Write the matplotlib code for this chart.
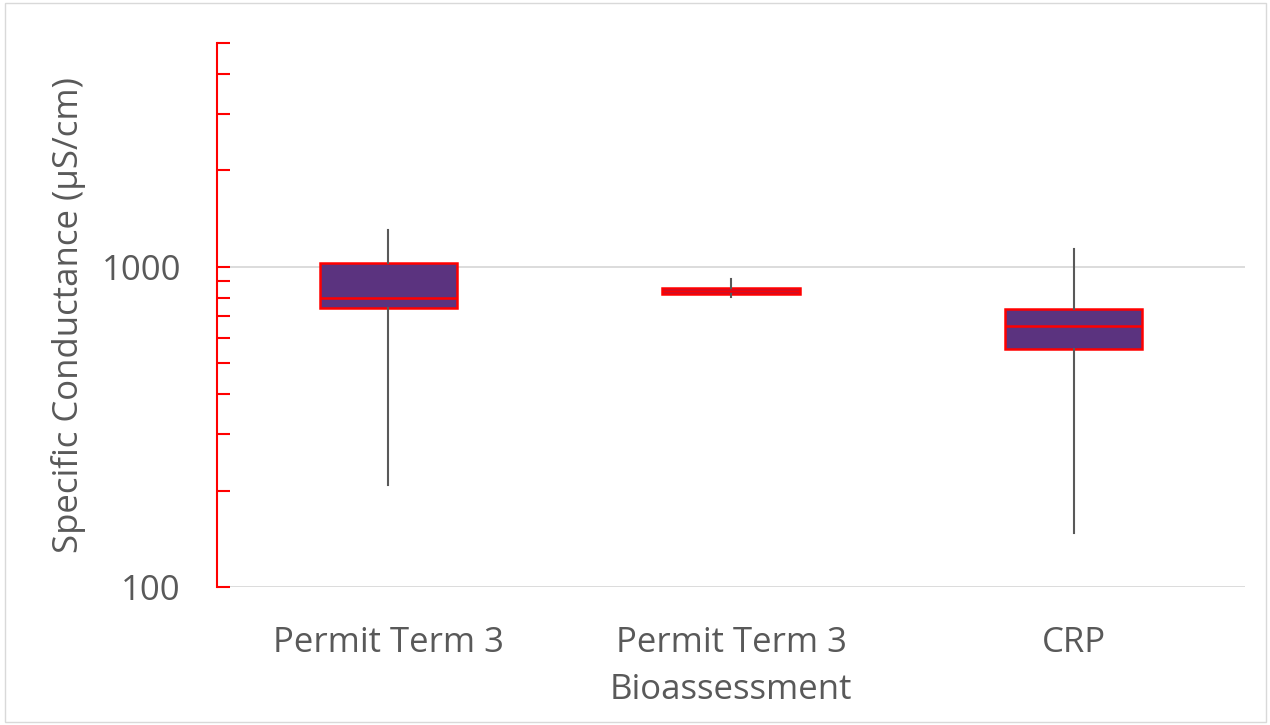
import matplotlib.pyplot as plt
from matplotlib.ticker import FixedLocator, NullFormatter, FixedFormatter
from matplotlib.patches import Rectangle

plt.rcParams['font.family'] = ['Open Sans', 'DejaVu Sans']

# box statistics (uS/cm)
groups = ['Permit Term 3', 'Permit Term 3\nBioassessment', 'CRP']
whislo = [209, 806, 147]
q1 = [743, 823, 553]
med = [800, 841, 653]
q3 = [1029, 859, 739]
whishi = [1306, 917, 1139]

stats = []
for i in range(len(groups)):
    stats.append(dict(label=groups[i], whislo=whislo[i], q1=q1[i], med=med[i],
                      q3=q3[i], whishi=whishi[i], fliers=[]))

fig = plt.figure(figsize=(12.7, 7.25), dpi=100)
ax = fig.add_axes([0.1709, 0.1903, 0.8094, 0.7504])

grey = '#595959'
ax.bxp(stats, positions=[0, 1, 2], widths=0.4, patch_artist=True, showcaps=False,
       boxprops=dict(facecolor='#5B337F', edgecolor='#FF0000', linewidth=1.8),
       medianprops=dict(color='#FF0000', linewidth=1.8),
       whiskerprops=dict(color=grey, linewidth=1.5), zorder=3)

ax.set_yscale('log')
ax.set_ylim(100, 5000)
ax.set_xlim(-0.5, 2.5)
ax.yaxis.set_major_locator(FixedLocator([100, 1000]))
ax.yaxis.set_major_formatter(FixedFormatter(['100', '1000']))
ax.yaxis.set_minor_locator(FixedLocator([200, 300, 400, 500, 600, 700, 800, 900,
                                         2000, 3000, 4000, 5000]))
ax.yaxis.set_minor_formatter(NullFormatter())
ax.tick_params(axis='y', which='both', direction='in', color='#FF0000', width=1.5,
               labelsize=25, labelcolor=grey, pad=26)
ax.tick_params(axis='y', which='major', length=9)
ax.tick_params(axis='y', which='minor', length=9)
ax.tick_params(axis='x', length=0, labelsize=25, labelcolor=grey, pad=28)
ax.set_xticks([0, 1, 2])
ax.set_xticklabels(groups, linespacing=1.5, va='top')

ax.grid(axis='y', which='major', color='#D9D9D9', linewidth=1.3, zorder=0)
for s in ['top', 'right', 'bottom']:
    ax.spines[s].set_visible(False)
ax.spines['left'].set_color('#FF0000')
ax.spines['left'].set_linewidth(1.5)

ax.set_ylabel('Specific Conductance (µS/cm)', fontsize=25, color=grey)
ax.yaxis.set_label_coords(-0.127, 0.5)

fig.patches.append(Rectangle((0.004, 0.004), 0.993, 0.992, transform=fig.transFigure,
                             fill=False, edgecolor='#D9D9D9', linewidth=1))

plt.savefig('out.png', dpi=100)
